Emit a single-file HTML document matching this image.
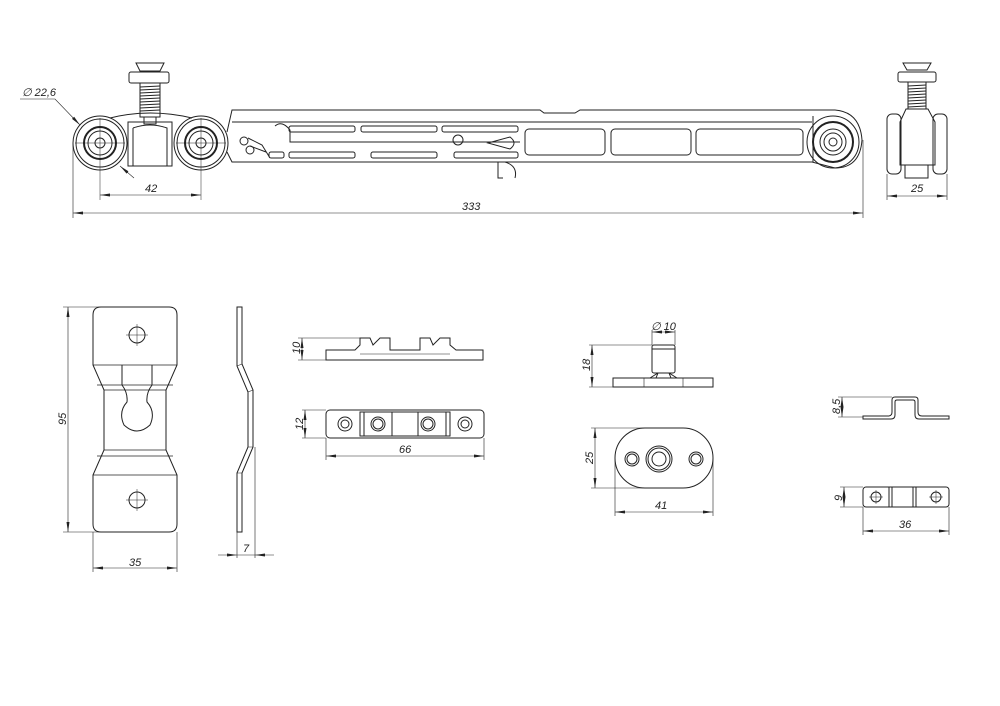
<!DOCTYPE html>
<html><head><meta charset="utf-8"><style>
html,body{margin:0;padding:0;background:#fff}
svg{display:block}
text{font-family:"Liberation Sans",sans-serif;font-style:italic;font-size:11px;fill:#222}
</style></head><body>
<svg width="1000" height="706" viewBox="0 0 1000 706" xmlns="http://www.w3.org/2000/svg">
<defs>
<marker id="a" viewBox="0 0 10 6" refX="10" refY="3" markerWidth="10" markerHeight="6" orient="auto-start-reverse" markerUnits="userSpaceOnUse"><path d="M0,1.5L10,3L0,4.5Z" fill="#222"/></marker>
</defs>
<g fill="none" stroke="#222" stroke-width="1">
<!-- TOP: left carriage -->
<path d="M110,118 Q150,108 192,118"/>
<rect x="128" y="122" width="44" height="44"/>
<path d="M133,128 Q150,122 167,128 L167,166 M133,128 L133,166"/>
<path d="M136,63 L164,63 L160,71 L140,71 Z"/>
<rect x="129" y="72" width="40" height="11" rx="2"/>
<rect x="140" y="83" width="20" height="34"/>
<path d="M140,87 L160,86 M140,90 L160,89 M140,93 L160,92 M140,96 L160,95 M140,99 L160,98 M140,102 L160,101 M140,105 L160,104 M140,108 L160,107 M140,111 L160,110"/>
<rect x="144" y="117" width="12" height="7"/>
<g>
<circle cx="100" cy="143" r="27"/><circle cx="100" cy="143" r="24"/><circle cx="100" cy="143" r="16" stroke-width="2"/><circle cx="100" cy="143" r="12"/><circle cx="100" cy="143" r="5"/>
<circle cx="201" cy="143" r="27"/><circle cx="201" cy="143" r="24"/><circle cx="201" cy="143" r="16" stroke-width="2"/><circle cx="201" cy="143" r="12"/><circle cx="201" cy="143" r="5"/>
</g>
<path d="M100,118 V200 M201,118 V200 M75,143 H125 M176,143 H226" stroke-width="0.5"/>
<!-- bar -->
<path d="M227,132 L232,110 L540,110 L544,113 L575,113 L580,110 L835,110 Q860,112 862,140 Q860,168 835,168 L812,162 L232,162 L227,152"/>
<path d="M232,122 L812,122"/>
<rect x="289" y="126" width="66" height="6" rx="2"/><rect x="361" y="126" width="76" height="6" rx="2"/><rect x="442" y="126" width="76" height="6" rx="2"/>
<rect x="269" y="152" width="15" height="6" rx="2"/><rect x="289" y="152" width="66" height="6" rx="2"/><rect x="371" y="152" width="66" height="6" rx="2"/><rect x="454" y="152" width="64" height="6" rx="2"/>
<path d="M275,126 Q282,120 290,130 L290,142 L520,142"/>
<circle cx="458" cy="140" r="5"/><path d="M488,143 L510,137 Q518,143 510,149 Z"/>
<circle cx="244" cy="141" r="4"/><circle cx="250" cy="150" r="4"/><path d="M248,138 L262,145 L270,158 M250,146 L266,152"/>
<path d="M498,162 L498,178 L503,178 M505,162 Q518,166 515,178"/>
<rect x="525" y="129" width="80" height="26" rx="4"/><rect x="611" y="129" width="80" height="26" rx="4"/><rect x="696" y="129" width="107" height="26" rx="4"/>
<path d="M813,116 L813,162"/>
<circle cx="833" cy="142" r="26"/><circle cx="833" cy="142" r="20" stroke-width="2"/><circle cx="833" cy="142" r="13"/><circle cx="833" cy="142" r="9"/><circle cx="833" cy="142" r="4"/>
<!-- side view -->
<path d="M903,63 L931,63 L927,70 L907,70 Z"/>
<rect x="898" y="72" width="38" height="10" rx="2"/>
<rect x="908" y="82" width="18" height="27"/>
<path d="M908,86 L926,85 M908,89 L926,88 M908,92 L926,91 M908,95 L926,94 M908,98 L926,97 M908,101 L926,100 M908,104 L926,103 M908,107 L926,106"/>
<path d="M906,109 L928,109 L935,122 L935,165 L900,165 L900,122 Z"/>
<rect x="887" y="114" width="14" height="60" rx="5"/><rect x="933" y="114" width="14" height="60" rx="5"/>
<rect x="905" y="165" width="23" height="13"/>
<!-- bracket front -->
<path d="M101,307 H169 Q177,307 177,315 V365 L166,390 V450 L177,475 V524 Q177,532 169,532 H101 Q93,532 93,524 V475 L104,450 V390 L93,365 V315 Q93,307 101,307 Z"/>
<path d="M93,365 H177 M104,390 H166 M104,450 H166 M93,475 H177 M97,385 L173,385 M97,456 L173,456" stroke-width="0.7"/>
<path d="M122,365 L122,385 Q128,393 127,402 Q118,412 124,425 Q137,437 150,425 Q156,412 147,402 Q146,393 152,385 L152,365"/>
<circle cx="137" cy="335" r="8"/><path d="M137,324 V346 M126,335 H148" stroke-width="0.5"/>
<circle cx="137" cy="500" r="8"/><path d="M137,489 V511 M126,500 H148" stroke-width="0.5"/>
<!-- profile -->
<path d="M237,307 H242 V364 L253,390 V447 L242,473 V532 H237 V473 L248,447 V392 L237,366 Z"/>
<path d="M242,364 L237,366 M253,390 L248,392 M253,447 L248,447 M242,473 L237,473" stroke-width="0.6"/>
<!-- part 10 -->
<path d="M326,350 H355 L360,345 V338 L370,338 L373,345 L380,338 L390,338 V350 H420 V338 L430,338 L433,345 L440,338 L450,338 V345 L456,350 H483 V360 H326 Z"/>
<path d="M360,354 H450" stroke-width="0.6"/>
<!-- part 12 -->
<rect x="326" y="410" width="158" height="28" rx="4"/>
<rect x="360" y="412" width="90" height="24"/>
<path d="M364,412 V436 M392,412 V436 M418,412 V436 M446,412 V436"/>
<circle cx="345" cy="424" r="7"/><circle cx="345" cy="424" r="4"/>
<circle cx="465" cy="424" r="7"/><circle cx="465" cy="424" r="4"/>
<circle cx="378" cy="424" r="7"/><circle cx="378" cy="424" r="5"/>
<circle cx="428" cy="424" r="7"/><circle cx="428" cy="424" r="5"/>
<!-- pin part -->
<rect x="613" y="378" width="100" height="9"/>
<rect x="652" y="345" width="23" height="28" rx="2"/><path d="M652,349 H675"/>
<path d="M658,373 L656,378 M669,373 L671,378 M650,378 L658,373 H669 L677,378"/>
<path d="M644,378 V387 M683,378 V387" stroke-width="0.6"/>
<!-- oval -->
<rect x="615" y="428" width="98" height="60" rx="30"/>
<circle cx="632" cy="459" r="7"/><circle cx="632" cy="459" r="5"/>
<circle cx="696" cy="459" r="7"/><circle cx="696" cy="459" r="5"/>
<circle cx="659" cy="459" r="13"/><circle cx="659" cy="459" r="11"/><circle cx="659" cy="459" r="7"/>
<!-- right bracket profile -->
<path d="M863,416 H888 Q892,416 892,412 V400 Q892,397 895,397 H915 Q918,397 918,400 V412 Q918,416 922,416 H949 V419 H919 Q915,419 915,415 V402 Q915,400 913,400 H897 Q895,400 895,402 V415 Q895,419 891,419 H863 Z"/>
<!-- right bracket flat -->
<rect x="863" y="487" width="86" height="20" rx="3"/>
<path d="M889,487 V507 M892,487 V507 M913,487 V507 M916,487 V507"/>
<circle cx="876" cy="497" r="5"/><circle cx="936" cy="497" r="5"/>
<path d="M876,490 V504 M869,497 H883 M936,490 V504 M929,497 H943" stroke-width="0.5"/>
</g>
<!-- dimension lines -->
<g fill="none" stroke="#222" stroke-width="0.6">
<path d="M73,143 V218 M863,140 V218"/>
<path d="M73,213 H863" marker-start="url(#a)" marker-end="url(#a)"/>
<path d="M100,195 H201" marker-start="url(#a)" marker-end="url(#a)"/>
<path d="M20,99 H55 L80,125" marker-end="url(#a)"/><path d="M134,178 L120,166" marker-end="url(#a)"/>
<path d="M887,174 V200 M947,174 V200"/><path d="M887,196 H947" marker-start="url(#a)" marker-end="url(#a)"/>
<path d="M63,307 H101 M63,532 H101"/><path d="M68,307 V532" marker-start="url(#a)" marker-end="url(#a)"/>
<path d="M93,532 V572 M177,532 V572"/><path d="M93,568 H177" marker-start="url(#a)" marker-end="url(#a)"/>
<path d="M237,532 V558 M255,447 V558"/><path d="M218,555 H237" marker-end="url(#a)"/><path d="M274,555 H255" marker-end="url(#a)"/><path d="M237,555 H255"/>
<path d="M298,338 H365 M298,360 H326"/><path d="M302,338 V360" marker-start="url(#a)" marker-end="url(#a)"/>
<path d="M302,410 H326 M302,438 H326"/><path d="M305,410 V438" marker-start="url(#a)" marker-end="url(#a)"/>
<path d="M326,438 V460 M484,438 V460"/><path d="M326,456 H484" marker-start="url(#a)" marker-end="url(#a)"/>
<path d="M652,345 V330 M675,345 V330"/><path d="M652,332 H675" marker-start="url(#a)" marker-end="url(#a)"/>
<path d="M589,345 H652 M589,387 H613"/><path d="M592,345 V387" marker-start="url(#a)" marker-end="url(#a)"/>
<path d="M591,428 H664 M591,488 H664"/><path d="M595,428 V488" marker-start="url(#a)" marker-end="url(#a)"/>
<path d="M615,458 V516 M713,458 V516"/><path d="M615,512 H713" marker-start="url(#a)" marker-end="url(#a)"/>
<path d="M838,397 H892 M838,417 H863"/><path d="M842,397 V417" marker-start="url(#a)" marker-end="url(#a)"/>
<path d="M840,487 H863 M840,507 H863"/><path d="M844,487 V507" marker-start="url(#a)" marker-end="url(#a)"/>
<path d="M863,507 V535 M949,507 V535"/><path d="M863,531 H949" marker-start="url(#a)" marker-end="url(#a)"/>
</g>
<g>
<text x="22" y="96">∅ 22,6</text>
<text x="145" y="192">42</text>
<text x="462" y="210">333</text>
<text x="911" y="192">25</text>
<text x="129" y="566">35</text>
<text x="243" y="552">7</text>
<text x="399" y="453">66</text>
<text x="655" y="509">41</text>
<text x="899" y="528">36</text>
<text x="651" y="330">∅ 10</text>
<text transform="translate(66,425) rotate(-90)">95</text>
<text transform="translate(300,354) rotate(-90)">10</text>
<text transform="translate(303,430) rotate(-90)">12</text>
<text transform="translate(590,371) rotate(-90)">18</text>
<text transform="translate(593,464) rotate(-90)">25</text>
<text transform="translate(840,414) rotate(-90)">8,5</text>
<text transform="translate(842,501) rotate(-90)">9</text>
</g>
</svg>
</body></html>
